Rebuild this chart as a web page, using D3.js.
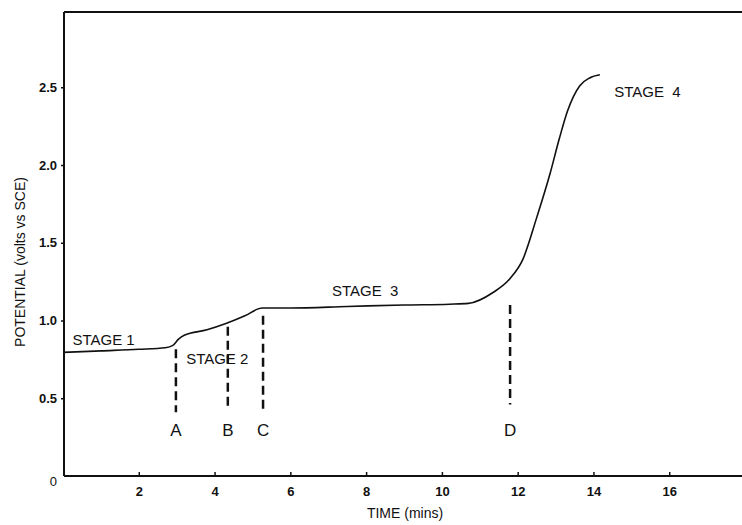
<!DOCTYPE html>
<html><head><meta charset="utf-8">
<script src="https://cdn.jsdelivr.net/npm/d3@7"></script>
<style>body{margin:0;background:#fff}svg{display:block}text{font-family:"Liberation Sans",Arial,sans-serif;fill:#111}</style>
</head><body><svg id="c" width="742" height="525"></svg>
<script>
const timeMin = [0, 1.0, 2.0, 2.7, 2.9, 3.05, 3.2, 3.8, 4.3, 4.8, 5.25, 6.0, 7.5, 9.0, 10.2, 10.7, 11.35, 11.8, 12.14, 12.5, 12.85, 13.1, 13.32, 13.64, 13.9, 14.17];
const potential = [0.795, 0.805, 0.815, 0.825, 0.84, 0.88, 0.905, 0.94, 0.98, 1.03, 1.08, 1.08, 1.09, 1.10, 1.105, 1.11, 1.18, 1.27, 1.395, 1.66, 1.94, 2.17, 2.35, 2.51, 2.56, 2.58];
const markerNames = ["A", "B", "C", "D"];
const markerTime = [2.98, 4.35, 5.28, 11.8];
const markerTop = [0.815, 0.96, 1.03, 1.10];
const markerBottom = [0.41, 0.43, 0.43, 0.46];
const stageNames = ["STAGE 1", "STAGE 2", "STAGE 3", "STAGE 4"];
const stageTime = [0.25, 3.25, 7.1, 14.55];
const stageV = [0.845, 0.72, 1.155, 2.44];
const xTicks = [2, 4, 6, 8, 10, 12, 14, 16];
const yTicks = [0, 0.5, 1.0, 1.5, 2.0, 2.5];

const svg = d3.select("#c");
const x = d3.scaleLinear().domain([0, 18]).range([63, 745]);
const y = d3.scaleLinear().domain([0, 2.984]).range([476, 12]);

svg.append("line").attr("x1", 64).attr("x2", 742).attr("y1", 12).attr("y2", 12).attr("stroke", "#111").attr("stroke-width", 2);

const xa = svg.append("g").attr("transform", "translate(0,476)")
  .call(d3.axisBottom(x).tickValues(xTicks).tickSize(-4).tickFormat(d3.format("d")).tickPadding(9));
xa.select(".domain").attr("d", "M64,0H742").attr("stroke-width", 2);
xa.selectAll("text").attr("font-size", 13).attr("font-weight", "bold").attr("dy", "0.85em");
xa.selectAll(".tick line").attr("stroke-width", 1.5);

const ya = svg.append("g").attr("transform", "translate(64,0)")
  .call(d3.axisLeft(y).tickValues(yTicks).tickSize(3).tickPadding(4).tickFormat(d => d === 0 ? "0" : d3.format(".1f")(d)));
ya.select(".domain").attr("d", "M0,12V476").attr("stroke-width", 2);
ya.selectAll("text").attr("font-size", 13).attr("font-weight", "bold");
ya.selectAll(".tick").filter(d => d === 0).select("text").attr("font-weight", "normal").attr("font-size", 13).attr("dy", "0.7em").attr("x", -7);
ya.selectAll(".tick").filter(d => d === 0).select("line").remove();
ya.selectAll(".tick line").attr("stroke-width", 1.5);
svg.selectAll(".tick text").attr("fill", "#111").attr("font-family", "'Liberation Sans',Arial,sans-serif");
svg.selectAll(".domain,.tick line").attr("stroke", "#111");

const pts = timeMin.map((t, i) => [t, potential[i]]);
svg.append("path").datum(pts)
  .attr("d", d3.line().x(d => x(d[0])).y(d => y(d[1])).curve(d3.curveMonotoneX))
  .attr("fill", "none").attr("stroke", "#111").attr("stroke-width", 1.6);

markerNames.forEach((m, i) => {
  svg.append("line").attr("x1", x(markerTime[i])).attr("x2", x(markerTime[i]))
    .attr("y1", y(markerTop[i])).attr("y2", y(markerBottom[i]))
    .attr("stroke", "#111").attr("stroke-width", 2.5).attr("stroke-dasharray", "9,5");
  svg.append("text").attr("x", x(markerTime[i])).attr("y", 436).attr("text-anchor", "middle")
    .attr("font-size", 17).text(m);
});

stageNames.forEach((s, i) => {
  svg.append("text").attr("x", x(stageTime[i])).attr("y", y(stageV[i])).attr("font-size", 15).text(s).attr("word-spacing", i >= 2 ? 4 : 0);
});

svg.append("text").attr("x", 405).attr("y", 518).attr("text-anchor", "middle").attr("font-size", 14).text("TIME (mins)");
svg.append("text").attr("transform", "translate(25,262) rotate(-90)").attr("text-anchor", "middle").attr("font-size", 14).text("POTENTIAL (volts vs SCE)");
</script></body></html>
